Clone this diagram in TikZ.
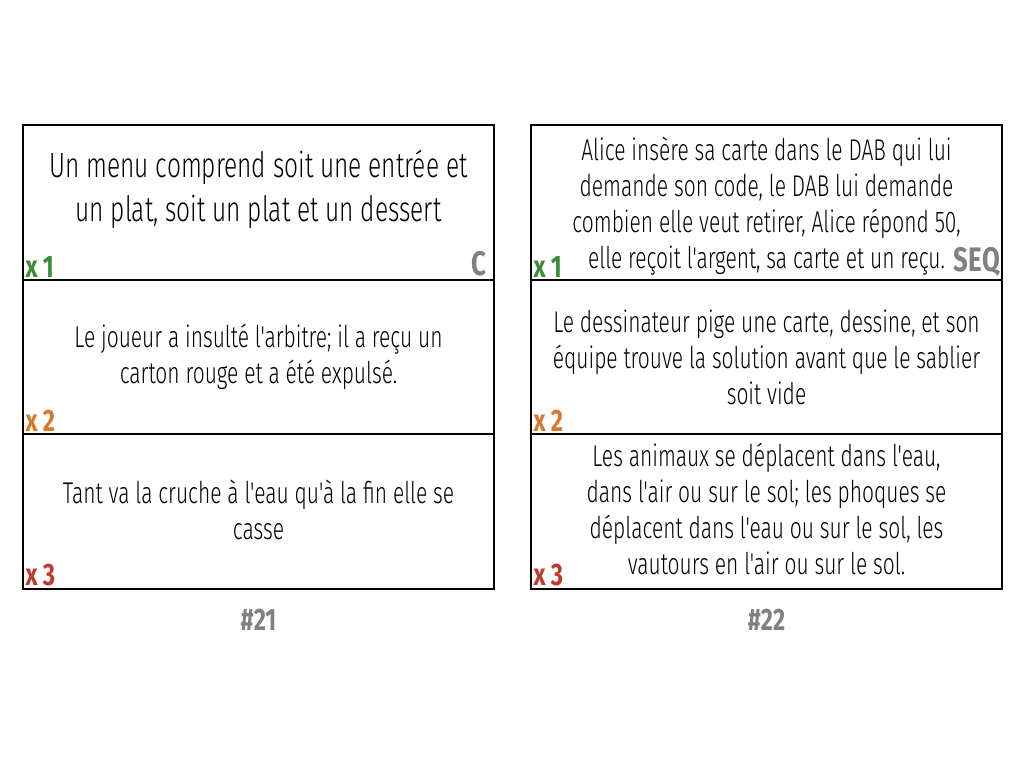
\documentclass[tikz,border=0pt]{standalone}
\usepackage{fontspec}
\newfontfamily\cardfont{Fira Sans Light}[FakeStretch=0.70]
\newfontfamily\tagfont{Fira Sans Bold}[FakeStretch=0.76]
\usetikzlibrary{positioning}

\definecolor{tagone}{HTML}{3D8B37}
\definecolor{tagtwo}{HTML}{D9782D}
\definecolor{tagthree}{HTML}{C0392B}
\definecolor{taggray}{HTML}{808080}

\begin{document}
\begin{tikzpicture}[x=1pt, y=-1pt,
   node distance = 0pt,
     cell/.style = {draw, line width=2pt, outer sep=0pt, inner sep=0pt,
                    minimum width=471pt, minimum height=154.7pt,
                    align=center, font=\cardfont\fontsize{30}{36}\selectfont},
      big/.style = {align=center, font=\cardfont\fontsize{35}{44}\selectfont},
      tag/.style = {inner sep=2.5pt, font=\tagfont\fontsize{31}{31}\selectfont},
     kind/.style = {inner sep=3pt, font=\tagfont\fontsize{34}{34}\selectfont, text=taggray},
   number/.style = {font=\tagfont\fontsize{31}{31}\selectfont, text=taggray}
                    ]
\useasboundingbox (0,0) rectangle (1024,768);
% card 21
  \node (a1) [cell] at (258.5,202.35) {};
  \node (a1t) [big] at ([yshift=13pt]a1)
        {Un menu comprend soit une entrée et\\un plat, soit un plat et un dessert};
  \node (a2) [cell,below=of a1]
        {Le joueur a insulté l'arbitre; il a reçu un\\carton rouge et a été expulsé.};
  \node (a3) [cell,below=of a2] {};
  \node (a3t) [cell,draw=none,yshift=2pt] at (a3)
        {Tant va la cruche à l'eau qu'à la fin elle se\\casse};
% card 22
  \node (b1) [cell] at (766.5,202.35)
        {\\[-4pt]Alice insère sa carte dans le DAB qui lui\\demande son code, le DAB lui demande\\
         combien elle veut retirer, Alice répond 50,\\elle reçoit l'argent, sa carte et un reçu.};
  \node (b2) [cell,below=of b1]
        {Le dessinateur pige une carte, dessine, et son\\équipe trouve la solution avant que le sablier\\soit vide};
  \node (b3) [cell,below=of b2] {};
  \node (b3t) [cell,draw=none,yshift=3pt] at (b3)
        {Les animaux se déplacent dans l'eau,\\dans l'air ou sur le sol; les phoques se\\
         déplacent dans l'eau ou sur le sol, les\\vautours en l'air ou sur le sol.};
% counts
  \node (a1n) [tag,text=tagone,anchor=south west]   at (a1.south west) {x\,1};
  \node (a2n) [tag,text=tagtwo,anchor=south west]   at (a2.south west) {x\,2};
  \node (a3n) [tag,text=tagthree,anchor=south west] at (a3.south west) {x\,3};
  \node (b1n) [tag,text=tagone,anchor=south west]   at (b1.south west) {x\,1};
  \node (b2n) [tag,text=tagtwo,anchor=south west]   at (b2.south west) {x\,2};
  \node (b3n) [tag,text=tagthree,anchor=south west] at (b3.south west) {x\,3};
% kinds
  \node (a1k) [kind,anchor=south east,xshift=-4pt] at (a1.south east) {C};
  \node (b1k) [kind,anchor=south east,xshift=1pt]  at (b1.south east) {SEQ};
% numbers
  \node (a0) [number,below=16pt of a3] {\#21};
  \node (b0) [number,below=16pt of b3] {\#22};
\end{tikzpicture}
\end{document}
